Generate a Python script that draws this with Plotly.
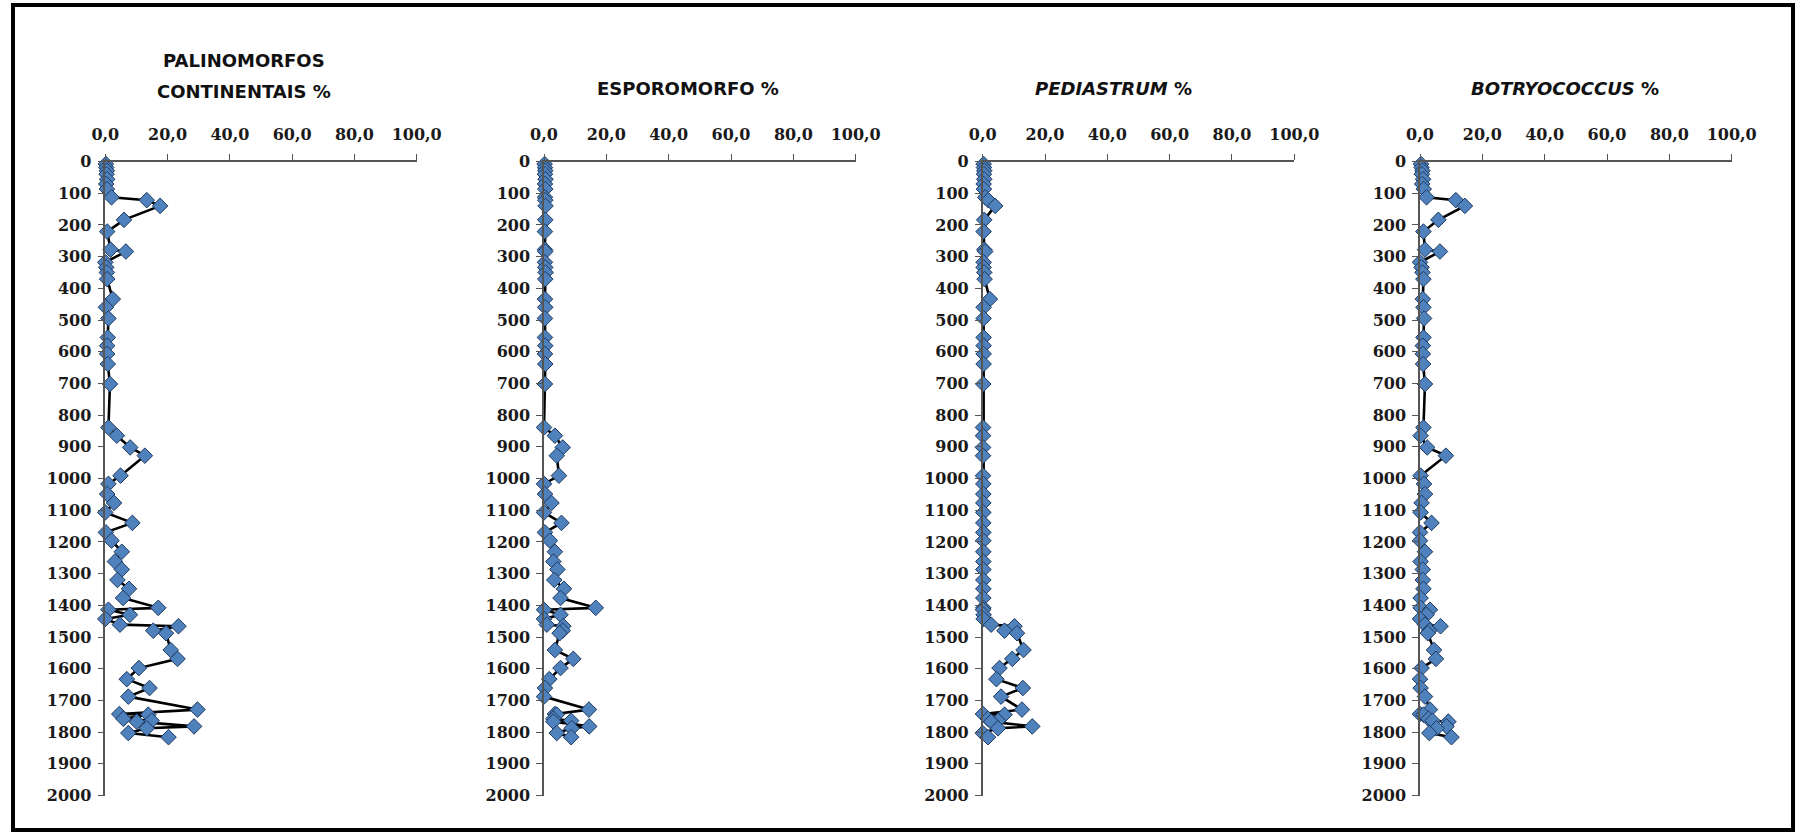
import plotly.graph_objects as go

# Sample depths (shared by all four profiles)
depth = [8, 19, 29, 40, 56, 71, 87, 113, 122, 140, 184, 221, 278, 284, 318, 334, 350, 371,
         434, 460, 495, 555, 581, 607, 639, 702,
         839, 865, 902, 928, 991, 1017, 1049, 1077, 1107, 1140, 1170, 1196, 1231, 1262,
         1287, 1320, 1348, 1377, 1408,
         1414, 1430, 1443, 1461, 1466, 1480, 1488, 1541, 1569, 1598, 1633, 1661, 1688,
         1729, 1743, 1745, 1758, 1764, 1767, 1782, 1788, 1803, 1816]

palinomorfos = [0.2, 0.3, 0.5, 0.4, 0.6, 0.3, 0.5, 2.0, 13.3, 17.6, 6.0, 0.6, 1.7, 6.6, 0.0, 0.3, 0.5, 0.6,
                2.4, 0.2, 1.0, 0.8, 0.6, 0.6, 0.8, 1.5,
                1.0, 3.7, 8.0, 12.7, 4.9, 1.0, 0.6, 2.8, 0.0, 8.7, 0.2, 2.0, 5.3, 3.1,
                5.3, 3.9, 7.6, 5.7, 17.0,
                1.0, 7.9, 0.0, 4.7, 23.5, 15.4, 19.5, 21.0, 23.2, 10.8, 6.9, 14.2, 7.4,
                29.6, 4.5, 13.8, 5.8, 14.9, 10.1, 28.5, 13.3, 7.4, 20.3]

esporomorfo = [0.2, 0.3, 0.4, 0.3, 0.5, 0.3, 0.4, 0.3, 0.4, 0.5, 0.4, 0.3, 0.3, 0.4, 0.3, 0.4, 0.5, 0.4,
               0.3, 0.4, 0.3, 0.3, 0.4, 0.3, 0.4, 0.3,
               0.0, 3.5, 6.0, 4.1, 4.8, 0.0, 0.3, 2.4, 0.0, 5.6, 0.3, 1.9, 3.5, 3.0,
               4.3, 3.3, 6.4, 5.3, 16.6,
               0.0, 5.3, 0.0, 0.9, 6.2, 6.0, 5.0, 3.5, 9.4, 5.3, 1.7, 0.3, 0.0,
               14.4, 3.5, 4.1, 3.0, 8.7, 3.0, 14.5, 8.9, 4.1, 8.7]

pediastrum = [0.3, 0.4, 0.5, 0.4, 0.5, 0.3, 0.4, 0.8, 1.8, 4.0, 0.5, 0.3, 0.5, 0.8, 0.3, 0.3, 0.5, 0.6,
              2.3, 0.3, 0.3, 0.3, 0.3, 0.3, 0.3, 0.2,
              0.1, 0.1, 0.1, 0.1, 0.1, 0.2, 0.2, 0.2, 0.2, 0.2, 0.2, 0.2, 0.2, 0.2,
              0.2, 0.2, 0.2, 0.2, 0.2,
              0.1, 0.3, 0.3, 2.7, 10.2, 7.0, 11.0, 13.1, 9.5, 5.4, 4.4, 12.9, 5.9,
              12.6, 0.1, 7.0, 1.7, 4.9, 2.7, 15.9, 4.9, 0.0, 1.7]

botryococcus = [0.3, 0.5, 0.8, 0.6, 1.0, 0.7, 1.2, 2.1, 11.5, 14.4, 5.9, 1.1, 1.6, 6.4, 0.0, 0.5, 0.8, 1.1,
                0.9, 1.1, 1.3, 1.1, 0.9, 0.9, 1.0, 1.6,
                1.1, 0.2, 2.3, 8.3, 0.2, 1.3, 1.6, 0.5, 0.2, 3.7, 0.0, 0.0, 1.6, 0.2,
                0.9, 0.9, 1.1, 0.2, 0.2,
                3.2, 2.1, 0.0, 1.6, 6.6, 3.0, 2.5, 4.5, 5.1, 0.5, 0.0, 0.2, 1.6,
                3.2, 0.0, 1.1, 2.7, 4.0, 9.1, 8.5, 5.3, 3.0, 10.1]

series = [palinomorfos, esporomorfo, pediastrum, botryococcus]
titles = ["PALINOMORFOS<br>CONTINENTAIS %", "ESPOROMORFO %",
          "<i>PEDIASTRUM</i> %", "<i>BOTRYOCOCCUS</i> %"]
x_ticks = [0, 20, 40, 60, 80, 100]
x_ticktext = ["0,0", "20,0", "40,0", "60,0", "80,0", "100,0"]
y_ticks = list(range(0, 2001, 100))

W, H = 1796, 834
# panel pixel placement
x_left = [105.3, 544.0, 982.7, 1420.0]
x_right = [416.7, 855.7, 1294.3, 1731.7]
y_top, y_bot = 161.5, 795.5
title_x = [244, 688, 1113, 1565]
title_y = [[60, 92], [88], [88], [88]]

tick_font = dict(family="DejaVu Serif", size=16, color="#1a1a1a", weight="bold")

fig = go.Figure()
layout = {}
for i, vals in enumerate(series):
    n = "" if i == 0 else str(i + 1)
    fig.add_trace(go.Scatter(
        x=vals, y=depth, mode="lines+markers",
        xaxis="x" + n, yaxis="y" + n,
        line=dict(color="black", width=2.6),
        marker=dict(symbol="diamond", size=12, color="#4F81BD",
                    line=dict(color="#1F3A60", width=1)),
        cliponaxis=False, showlegend=False))
    layout["xaxis" + n] = dict(
        domain=[x_left[i] / W, x_right[i] / W], range=[0, 100],
        anchor="y" + n, side="top", tickvals=x_ticks, ticktext=x_ticktext,
        ticks="outside", ticklen=6, tickcolor="#555", showline=True, linecolor="#555",
        linewidth=1.5, showgrid=False, zeroline=False, fixedrange=True,
        automargin=False, ticklabelstandoff=7, tickfont=tick_font)
    layout["yaxis" + n] = dict(
        domain=[1 - y_bot / H, 1 - y_top / H], range=[2000, 0],
        anchor="x" + n, tickvals=y_ticks, ticktext=[str(v) for v in y_ticks],
        ticks="outside", ticklen=6, tickcolor="#555", showline=True, linecolor="#555",
        linewidth=1.5, showgrid=False, zeroline=False, fixedrange=True,
        automargin=False, ticklabelstandoff=3, tickfont=tick_font)
    for line_text, ty in zip(titles[i].split("<br>"), title_y[i]):
        fig.add_annotation(x=title_x[i] / W, y=1 - ty / H, xref="paper", yref="paper",
                           text="<b>" + line_text + "</b>", showarrow=False,
                           font=dict(family="DejaVu Sans", size=18, color="#111"),
                           xanchor="center", yanchor="middle")

fig.update_layout(**layout)
fig.add_shape(type="rect", xref="paper", yref="paper",
              x0=13 / W, x1=1793 / W, y0=1 - 830 / H, y1=1 - 5 / H,
              line=dict(color="black", width=4))
fig.update_layout(template="none", width=W, height=H, margin=dict(l=0, r=0, t=0, b=0),
                  paper_bgcolor="white", plot_bgcolor="white")
fig.write_html("out.html")
